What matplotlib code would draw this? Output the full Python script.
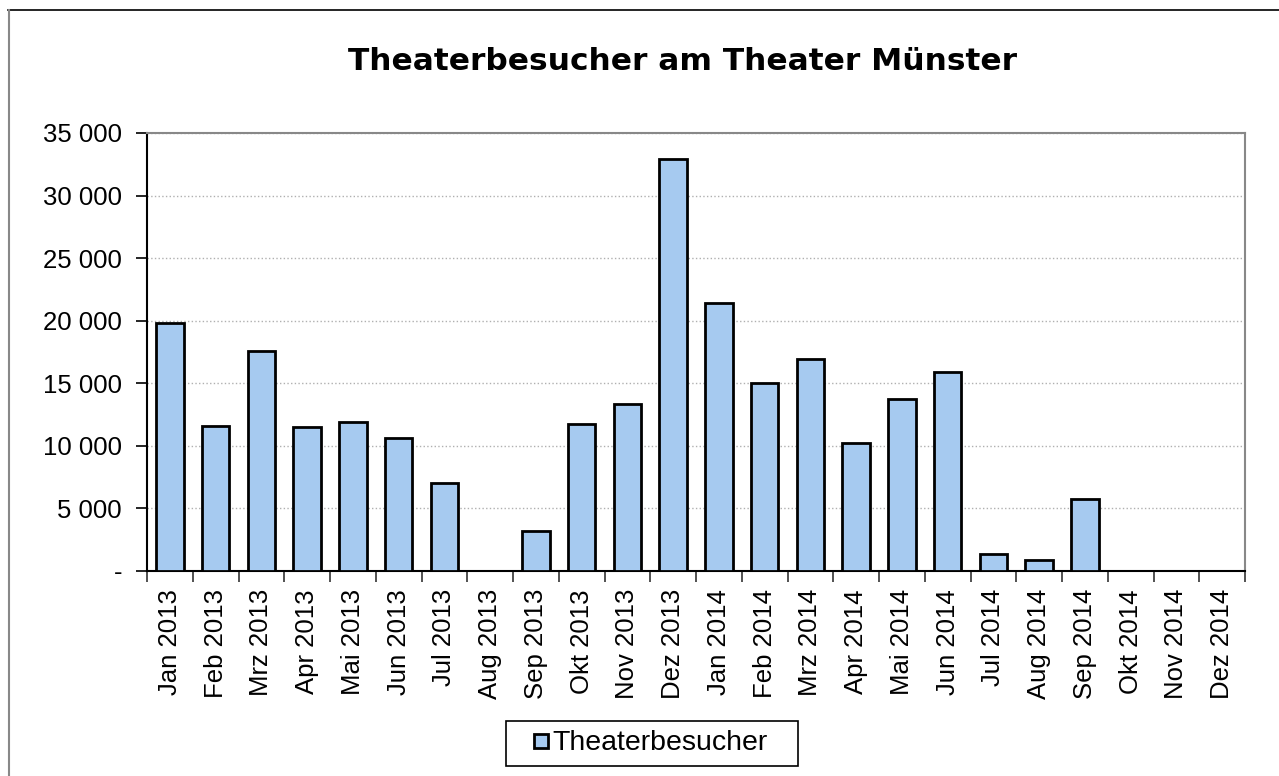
import matplotlib.pyplot as plt
import matplotlib.ticker as mticker
from matplotlib.lines import Line2D
import numpy as np

# monthly visitors
months = ['Jan 2013', 'Feb 2013', 'Mrz 2013', 'Apr 2013', 'Mai 2013', 'Jun 2013',
          'Jul 2013', 'Aug 2013', 'Sep 2013', 'Okt 2013', 'Nov 2013', 'Dez 2013',
          'Jan 2014', 'Feb 2014', 'Mrz 2014', 'Apr 2014', 'Mai 2014', 'Jun 2014',
          'Jul 2014', 'Aug 2014', 'Sep 2014', 'Okt 2014', 'Nov 2014', 'Dez 2014']
besucher = [19820, 11620, 17550, 11540, 11920, 10660,
            7030, 0, 3200, 11780, 13360, 32940,
            21430, 15010, 16910, 10260, 13760, 15870,
            1340, 910, 5740, 0, 0, 0]
yticks = [0, 5000, 10000, 15000, 20000, 25000, 30000, 35000]

bar_color = '#a6caf0'
plt.rcParams['font.family'] = ['Liberation Sans', 'DejaVu Sans']

fig = plt.figure(figsize=(12.79, 7.76), dpi=100)
ax = fig.add_axes([147/1279, 1 - 571/776, (1245-147)/1279, (571-133)/776])

x = np.arange(len(months))
ax.bar(x, besucher, width=0.6, color=bar_color, edgecolor='black', linewidth=2, zorder=3)

ax.set_xlim(-0.5, len(months) - 0.5)
ax.set_ylim(0, 35000)
ax.set_yticks(yticks)
ax.yaxis.set_major_formatter(mticker.FuncFormatter(
    lambda v, p: '-' if v == 0 else f'{int(v):,}'.replace(',', ' ')))

ax.set_xticks(x)
ax.set_xticklabels(months, rotation=90, fontsize=18.5)
ax.xaxis.set_minor_locator(mticker.FixedLocator(np.arange(-0.5, len(months), 1)))
ax.tick_params(axis='x', which='major', length=0, pad=13)
ax.tick_params(axis='x', which='minor', length=8, width=1.2, color='#333333')
ax.tick_params(axis='y', length=8, width=1.2, labelsize=18.5, pad=10)

ax.grid(axis='y', color='#b0b0b0', linestyle=':', linewidth=1, zorder=0)
for side in ['left', 'bottom']:
    ax.spines[side].set_color('black')
    ax.spines[side].set_linewidth(1.5)
for side in ['top', 'right']:
    ax.spines[side].set_color('#888888')
    ax.spines[side].set_linewidth(1.5)

fig.text(682/1279, 1 - 62/776, 'Theaterbesucher am Theater Münster', ha='center', va='center',
         fontsize=22.5, fontweight='bold', family='DejaVu Sans')

# legend: square marker handle, box stretched to the reference width
handle = Line2D([], [], marker='s', markersize=10.5, markeredgewidth=2,
                markerfacecolor=bar_color, markeredgecolor='black', linestyle='none')
leg = fig.legend([handle], ['Theaterbesucher'], loc='center', mode='expand',
                 bbox_to_anchor=(506/1279, 1 - 766/776, 292/1279, 45/776), fontsize=20.5,
                 fancybox=False, framealpha=1, edgecolor='black', handlelength=1.8,
                 handletextpad=-0.5, borderpad=0.33, borderaxespad=0)
leg.get_frame().set_linewidth(1.2)

# outer chart border: black top, grey left
fig.add_artist(Line2D([8/1279, 1], [1 - 10/776, 1 - 10/776], transform=fig.transFigure,
                      color='black', linewidth=1.2))
fig.add_artist(Line2D([8.5/1279, 8.5/1279], [0, 1 - 10/776], transform=fig.transFigure,
                      color='#888888', linewidth=1.5))

fig.savefig('out.png', dpi=100)
